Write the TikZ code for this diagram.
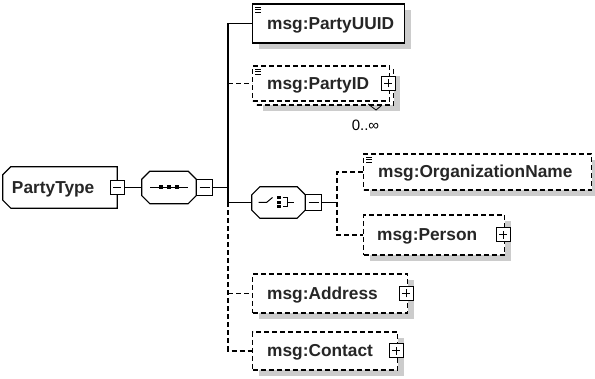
\documentclass[tikz,border=0pt]{standalone}
\usepackage{fontspec}
\setmainfont{Liberation Sans}
\usepackage{tikz}
\usetikzlibrary{positioning}
\usetikzlibrary{shadows}
\usetikzlibrary{calc}
\newcommand{\docmark}[1]{%
  \foreach \dy in {4,6.5,9}
    \draw[line width=0.9pt] ($(#1.north west)+(3,\dy)$) -- ++(6,0);}
% octagon round a node: #1 node, #2 left cut, #3 right cut
\newcommand{\octpath}[3]{%
  ($(#1.north west)+(#2,0)$) -- ($(#1.north east)+(-#3,0)$) -- ($(#1.north east)+(0,#3)$)
  -- ($(#1.south east)+(0,-#3)$) -- ($(#1.south east)+(-#3,0)$) -- ($(#1.south west)+(#2,0)$)
  -- ($(#1.south west)+(0,-#2)$) -- ($(#1.north west)+(0,#2)$) -- cycle}
\newcommand{\compbox}[3]{%
  \fill[gray!40,shift={(6,6)}] \octpath{#1}{#2}{#3};
  \draw[fill=white,line width=1.2pt] \octpath{#1}{#2}{#3};}

\tikzset{
  conn/.style={line width=1.2pt},
  opt/.style={dash pattern=on 5pt off 3pt},
  boxshadow/.style={drop shadow={shadow xshift=6pt,shadow yshift=-6pt,fill=gray!40,opacity=1}},
  elem/.style={draw,line width=1.2pt,fill=white,inner sep=0pt,anchor=west},
  comp/.style={inner sep=0pt},
  lbl/.style={font=\fontsize{17.3}{20}\selectfont\bfseries,text=black!85,inner sep=0pt,
    text height=13pt,text depth=1.4pt},
  pm/.style={draw,line width=1pt,fill=white,minimum size=14pt,inner sep=0pt},
  collapse/.style={pm,path picture={\draw[line width=1pt]
      ([xshift=3pt]path picture bounding box.west) -- ([xshift=-3pt]path picture bounding box.east);}},
  expand/.style={pm,path picture={\draw[line width=1pt]
      ([xshift=3pt]path picture bounding box.west) -- ([xshift=-3pt]path picture bounding box.east)
      ([yshift=3pt]path picture bounding box.south) -- ([yshift=-3pt]path picture bounding box.north);}},
}

\begin{document}
\begin{tikzpicture}[x=1pt,y=-1pt]
  \useasboundingbox (0,0) rectangle (595,379);
  % complex type and its sequence
  \node[comp,minimum width=114pt,minimum height=41pt] (type) at (60,187.5) {};
  \compbox{type}{8}{0}
  \node[lbl,right=9pt of type.west] (typeName) {PartyType};
  \node[collapse] (typePM) at (type.east) {};
  \node[comp,minimum width=54pt,minimum height=32pt] (seq) at (169,187.5) {};
  \compbox{seq}{8}{8}
  \node[collapse,minimum size=16pt,right=0pt of seq] (seqPM) {};
  \draw[line width=1pt] ($(seq)+(-19,0)$) -- ($(seq)+(19,0)$);
  \foreach \dx in {-8,0,8}
    \fill ($(seq)+(\dx-2,-2)$) rectangle ++(4,4);
  % children of the sequence
  \node[elem,boxshadow,minimum width=152pt,minimum height=39pt] (uuid) at (252,23.5) {};
  \node[lbl,right=15pt of uuid.west] (uuidName) {msg:PartyUUID};
  \docmark{uuid}
  \node[elem,opt,boxshadow,minimum width=137pt,minimum height=35pt] (idBack) at (256,87.5) {};
  \node[elem,opt,minimum width=137pt,minimum height=35pt] (id) at (252,83.5) {};
  \node[lbl,right=15pt of id.west] (idName) {msg:PartyID};
  \node[expand] (idPM) at ([xshift=-2pt]id.east) {};
  \docmark{id}
  \draw[line width=0.8pt] (368,104) -- (376,110) -- (381,106);
  \node[font=\fontsize{15}{17}\selectfont,inner sep=0pt] (idOcc) at (365.5,125) {0..∞};
  % choice
  \node[comp,minimum width=53pt,minimum height=31pt] (choice) at (278.5,202.5) {};
  \compbox{choice}{8}{8}
  \node[collapse,minimum size=16pt,right=0pt of choice] (choicePM) {};
  \draw[line width=1pt] ($(choice)+(-20,0)$) -- ++(8,0) -- ++(6,-5);
  \foreach \dy in {-4.5,0,4.5}
    \fill ($(choice)+(-1.5,\dy-1.5)$) rectangle ++(4,3);
  \draw[line width=1pt] ($(choice)+(4,-4.5)$) -- ++(5,0) -- ++(0,9) -- ++(-5,0)
    ($(choice)+(9,0)$) -- ++(6,0);
  \node[elem,opt,boxshadow,minimum width=228pt,minimum height=36pt] (org) at (363,172) {};
  \node[lbl,right=15pt of org.west] (orgName) {msg:OrganizationName};
  \docmark{org}
  \node[elem,opt,boxshadow,minimum width=141pt,minimum height=40pt] (person) at (363,235) {};
  \node[lbl,right=14pt of person.west] (personName) {msg:Person};
  \node[expand] (personPM) at ([xshift=-2pt]person.east) {};
  \node[elem,opt,boxshadow,minimum width=155pt,minimum height=39pt] (addr) at (252,293.5) {};
  \node[lbl,right=15pt of addr.west] (addrName) {msg:Address};
  \node[expand] (addrPM) at ([xshift=-2pt]addr.east) {};
  \node[elem,opt,boxshadow,minimum width=145pt,minimum height=38pt] (contact) at (252,351) {};
  \node[lbl,right=15pt of contact.west] (contactName) {msg:Contact};
  \node[expand] (contactPM) at ([xshift=-2pt]contact.east) {};
  % connectors
  \coordinate (bus) at (228,187.5);
  \coordinate (sub) at (337,202.5);
  \draw[conn] (typePM) -- (seq);
  \draw[conn] (seqPM) -- (bus);
  \draw[conn] (uuid.west) -| (choice.west -| bus) -- (choice.west);
  \draw[conn,opt] (id.west -| bus) -- (id.west);
  \draw[conn,opt] (choice.west -| bus) |- (contact.west);
  \draw[conn,opt] (addr.west -| bus) -- (addr.west);
  \draw[conn] (choicePM) -- (sub);
  \draw[conn,opt] (org.west) -| (sub) |- (person.west);
\end{tikzpicture}
\end{document}
